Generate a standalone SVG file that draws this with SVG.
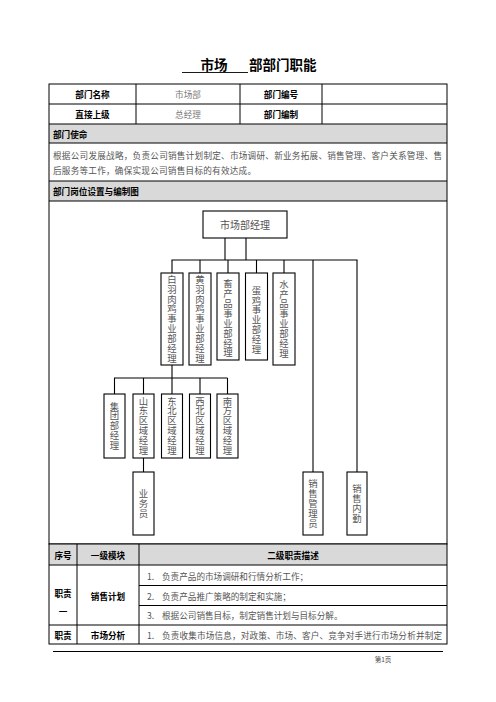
<svg xmlns="http://www.w3.org/2000/svg" width="496" height="702" viewBox="0 0 496 702">
<style>
text{font-family:"Noto Sans CJK SC","Liberation Sans",sans-serif;dominant-baseline:central}
.h{font-size:8.6px;font-weight:bold;fill:#000}
.b{font-size:8.6px;fill:#555}
.g{font-size:8.6px;fill:#777}
.n{font-size:9.4px;fill:#555;text-anchor:middle}
.v{font-size:9.4px;fill:#555;text-anchor:middle;writing-mode:vertical-rl;letter-spacing:0.5px}
.c{text-anchor:middle}
.ln{stroke:#000;stroke-width:1;fill:none}
.box{fill:#fff;stroke:#000;stroke-width:1.1}
.gray{fill:#d9d9d9}
.con line{stroke:#000;stroke-width:1.1}
</style>
<rect width="496" height="702" fill="#fff"/>
<!-- title -->
<g id="title">
<text x="214" y="64" style="font-size:13.5px;font-weight:bold" class="c">市场</text>
<line x1="182" y1="72.5" x2="248" y2="72.5" stroke="#000" stroke-width="0.9"/>
<text x="249" y="64" style="font-size:13.5px;font-weight:bold">部部门职能</text>
</g>
<!-- table 1 -->
<g id="table1">
<rect x="49" y="124" width="398" height="19" class="gray"/>
<rect x="49" y="181" width="398" height="20" class="gray"/>
<rect x="49" y="84" width="398" height="460" class="ln"/>
<line x1="49" y1="104" x2="447" y2="104" class="ln"/>
<line x1="49" y1="124" x2="447" y2="124" class="ln"/>
<line x1="49" y1="143" x2="447" y2="143" class="ln"/>
<line x1="49" y1="181" x2="447" y2="181" class="ln"/>
<line x1="49" y1="201" x2="447" y2="201" class="ln"/>
<line x1="136" y1="84" x2="136" y2="124" class="ln"/>
<line x1="240" y1="84" x2="240" y2="124" class="ln"/>
<line x1="322" y1="84" x2="322" y2="124" class="ln"/>
<text x="92.5" y="94" class="h c">部门名称</text>
<text x="188" y="94" class="g c">市场部</text>
<text x="281" y="94" class="h c">部门编号</text>
<text x="92.5" y="114" class="h c">直接上级</text>
<text x="188" y="114" class="g c">总经理</text>
<text x="281" y="114" class="h c">部门编制</text>
<text x="53" y="133.5" class="h">部门使命</text>
<text x="53" y="155" class="b" textLength="389" lengthAdjust="spacing">根据公司发展战略，负责公司销售计划制定、市场调研、新业务拓展、销售管理、客户关系管理、售</text>
<text x="53" y="170" class="b" textLength="203" lengthAdjust="spacing">后服务等工作，确保实现公司销售目标的有效达成。</text>
<text x="53" y="191" class="h">部门岗位设置与编制图</text>
</g>
<!-- connectors -->
<g id="connectors" class="con">
<line x1="225" y1="238" x2="225" y2="260"/>
<line x1="246" y1="238" x2="246" y2="260"/>
<line x1="171.5" y1="260" x2="357.5" y2="260"/>
<line x1="172" y1="260" x2="172" y2="273"/>
<line x1="200" y1="260" x2="200" y2="273"/>
<line x1="228" y1="260" x2="228" y2="273"/>
<line x1="256.5" y1="260" x2="256.5" y2="273"/>
<line x1="284" y1="260" x2="284" y2="273"/>
<line x1="313" y1="260" x2="313" y2="472"/>
<line x1="357" y1="260" x2="357" y2="472"/>
<line x1="172" y1="365" x2="172" y2="394"/>
<line x1="114" y1="378" x2="227.5" y2="378"/>
<line x1="114.5" y1="378" x2="114.5" y2="394"/>
<line x1="143.5" y1="378" x2="143.5" y2="394"/>
<line x1="200" y1="378" x2="200" y2="394"/>
<line x1="227.5" y1="378" x2="227.5" y2="394"/>
<line x1="143.5" y1="458" x2="143.5" y2="472"/>
</g>
<!-- nodes -->
<g id="n-top"><rect x="203" y="211" width="84" height="27" class="box"/><text x="245" y="224.5" class="n" style="font-size:10px">市场部经理</text></g>
<g id="n-baiyu"><rect x="161" y="273" width="22" height="92" class="box"/><text x="172" y="319" class="v">白羽肉鸡事业部经理</text></g>
<g id="n-huangyu"><rect x="189" y="273" width="22" height="92" class="box"/><text x="200" y="319" class="v">黄羽肉鸡事业部经理</text></g>
<g id="n-xuchan"><rect x="217" y="273" width="22" height="87" class="box"/><text x="228" y="318.5" class="v">畜产品事业部经理</text></g>
<g id="n-danji"><rect x="245.5" y="273" width="22" height="87" class="box"/><text x="256.5" y="320" class="v">蛋鸡事业部经理</text></g>
<g id="n-shuichan"><rect x="273" y="273" width="22" height="92" class="box"/><text x="284" y="319" class="v">水产品事业部经理</text></g>
<g id="n-jituan"><rect x="104" y="394" width="21" height="64" class="box"/><text x="114.5" y="426" class="v">集团部经理</text></g>
<g id="n-shandong"><rect x="133" y="394" width="21" height="64" class="box"/><text x="143.5" y="426" class="v">山东区域经理</text></g>
<g id="n-dongbei"><rect x="161.5" y="394" width="21" height="64" class="box"/><text x="172" y="426" class="v">东北区域经理</text></g>
<g id="n-xibei"><rect x="189.5" y="394" width="21" height="64" class="box"/><text x="200" y="426" class="v">西北区域经理</text></g>
<g id="n-nanfang"><rect x="217" y="394" width="21" height="64" class="box"/><text x="227.5" y="426" class="v">南方区域经理</text></g>
<g id="n-yewu"><rect x="133" y="472" width="21" height="63" class="box"/><text x="143.5" y="503.5" class="v">业务员</text></g>
<g id="n-xsgly"><rect x="303" y="472" width="20" height="63" class="box"/><text x="313" y="503.5" class="v">销售管理员</text></g>
<g id="n-xsnq"><rect x="347" y="472" width="20" height="63" class="box"/><text x="357" y="503.5" class="v">销售内勤</text></g>
<!-- table 2 -->
<g id="table2">
<rect x="49" y="544" width="398" height="21" class="gray"/>
<rect x="49" y="544" width="398" height="100" class="ln"/>
<line x1="49" y1="565" x2="447" y2="565" class="ln"/>
<line x1="139" y1="585.5" x2="447" y2="585.5" class="ln"/>
<line x1="139" y1="605.5" x2="447" y2="605.5" class="ln"/>
<line x1="49" y1="625" x2="447" y2="625" class="ln"/>
<line x1="77" y1="544" x2="77" y2="644" class="ln"/>
<line x1="139" y1="544" x2="139" y2="644" class="ln"/>
<text x="63" y="554.5" class="h c">序号</text>
<text x="108" y="554.5" class="h c">一级模块</text>
<text x="293" y="554.5" class="h c">二级职责描述</text>
<text x="63" y="593" class="h c">职责</text>
<text x="63" y="611" class="h c">一</text>
<text x="108" y="595.5" class="h c">销售计划</text>
<text x="147" y="575.5" class="b">1.</text>
<text x="162" y="575.5" class="b">负责产品的市场调研和行情分析工作；</text>
<text x="147" y="595.5" class="b">2.</text>
<text x="162" y="595.5" class="b">负责产品推广策略的制定和实施；</text>
<text x="147" y="615" class="b">3.</text>
<text x="162" y="615" class="b">根据公司销售目标，制定销售计划与目标分解。</text>
<text x="63" y="635" class="h c">职责</text>
<text x="108" y="635" class="h c">市场分析</text>
<text x="147" y="635" class="b">1.</text>
<text x="162" y="635" class="b" textLength="280" lengthAdjust="spacing">负责收集市场信息，对政策、市场、客户、竞争对手进行市场分析并制定</text>
</g>
<!-- footer -->
<g id="footer">
<line x1="53" y1="651.5" x2="443" y2="651.5" stroke="#000" stroke-width="1"/>
<text x="383" y="658.5" class="c" style="font-size:6.5px;fill:#444">第1页</text>
</g>
</svg>
